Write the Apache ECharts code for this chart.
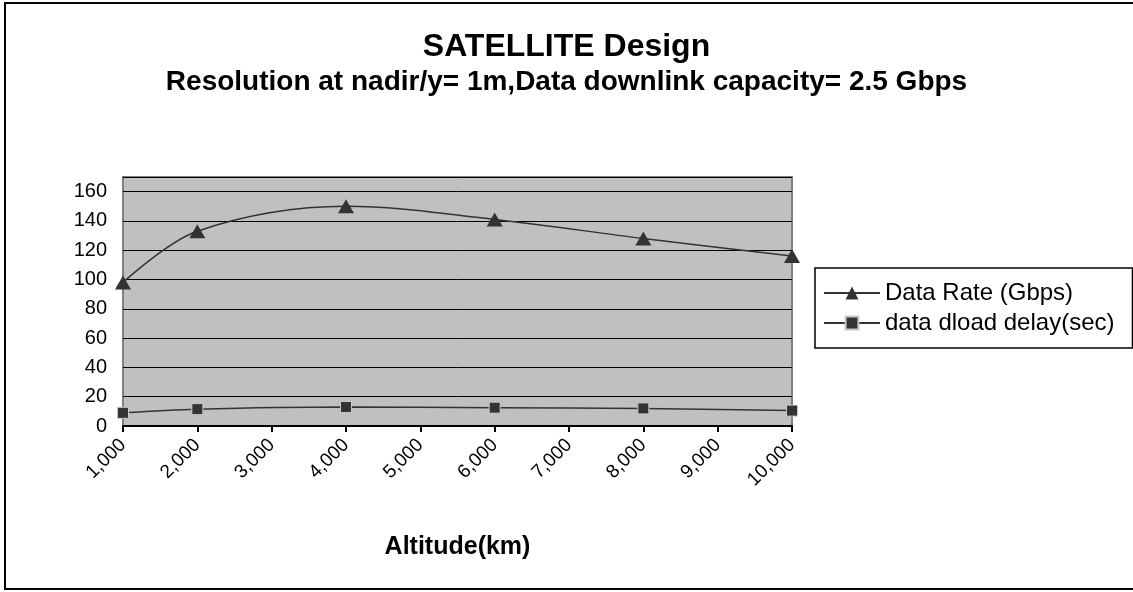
<!DOCTYPE html>
<html>
<head>
<meta charset="utf-8">
<script src="https://cdn.jsdelivr.net/npm/echarts@6/dist/echarts.min.js"></script>
<style>
  html, body { margin: 0; padding: 0; background: #fff; }
  #chart { width: 1133px; height: 592px; }
</style>
</head>
<body>
<div id="chart"></div>
<script>
// Altitude (km) of each computed design point
const altitudes = [1000, 2000, 4000, 6000, 8000, 10000];
// Achievable data rate, Gbps
const dataRate = [98, 133, 150, 141, 128, 116];
// Time to download the data, seconds
const dloadDelay = [9, 11.5, 13, 12.5, 12, 10.5];
const seriesNames = ['Data Rate (Gbps)', 'data dload delay(sec)'];

const FONT = 'Liberation Sans, Arial, Helvetica, sans-serif';
const chart = echarts.init(document.getElementById('chart'), null, { renderer: 'canvas' });

const pairs = (xs, ys) => xs.map((x, i) => [x, ys[i]]);

chart.setOption({
  animation: false,
  backgroundColor: '#ffffff',
  title: {
    text: 'SATELLITE Design',
    subtext: 'Resolution at nadir/y= 1m,Data downlink capacity= 2.5 Gbps',
    left: 'center',
    top: 26,
    itemGap: 5,
    textStyle: { fontFamily: FONT, fontSize: 32, fontWeight: 'bold', color: '#000' },
    subtextStyle: { fontFamily: FONT, fontSize: 28, fontWeight: 'bold', color: '#000' }
  },
  graphic: [{
    type: 'rect',
    shape: { x: 5, y: 3, width: 1150, height: 586 },
    style: { fill: 'none', stroke: '#000', lineWidth: 2 },
    silent: true
  }],
  legend: {
    orient: 'vertical',
    left: 815,
    top: 268,
    padding: [13, 18, 13, 8],
    itemGap: 6,
    itemWidth: 56,
    itemHeight: 16,
    borderColor: '#000',
    borderWidth: 1.5,
    backgroundColor: '#fff',
    textStyle: { fontFamily: FONT, fontSize: 24, color: '#000' },
    data: seriesNames
  },
  grid: {
    left: 123, right: 341, top: 177, bottom: 166,
    show: true,
    backgroundColor: '#c0c0c0',
    borderColor: '#808080',
    borderWidth: 2
  },
  xAxis: {
    type: 'value',
    min: 1000, max: 10000, interval: 1000,
    name: 'Altitude(km)',
    nameLocation: 'middle',
    nameGap: 109,
    nameTextStyle: { fontFamily: FONT, fontSize: 25, fontWeight: 'bold', color: '#000' },
    axisLine: { show: true, onZero: false, lineStyle: { color: '#000', width: 2 } },
    axisTick: { show: true, inside: false, length: 6, lineStyle: { color: '#000', width: 2 } },
    splitLine: { show: false },
    axisLabel: {
      rotate: 45,
      margin: 16,
      fontFamily: FONT, fontSize: 19, color: '#000',
      formatter: v => v.toLocaleString('en-US')
    }
  },
  yAxis: {
    type: 'value',
    min: 0, max: 170, interval: 20,
    axisLine: { show: false },
    axisTick: { show: false },
    splitLine: { show: true, lineStyle: { color: '#000', width: 1 } },
    axisLabel: {
      margin: 16,
      fontFamily: FONT, fontSize: 20, color: '#000',
      formatter: v => (v > 160 ? '' : String(v))
    }
  },
  series: [
    {
      name: seriesNames[0],
      type: 'line',
      smooth: 0.35,
      data: pairs(altitudes, dataRate),
      symbol: 'triangle',
      symbolSize: [16, 14],
      lineStyle: { color: '#333', width: 1.5 },
      itemStyle: { color: '#333' }
    },
    {
      name: seriesNames[1],
      type: 'line',
      smooth: 0.35,
      data: pairs(altitudes, dloadDelay),
      symbol: 'rect',
      symbolSize: 11,
      lineStyle: { color: '#333', width: 1.5 },
      itemStyle: { color: '#333', borderColor: '#c8c8c8', borderWidth: 1 }
    }
  ]
});
</script>
</body>
</html>
